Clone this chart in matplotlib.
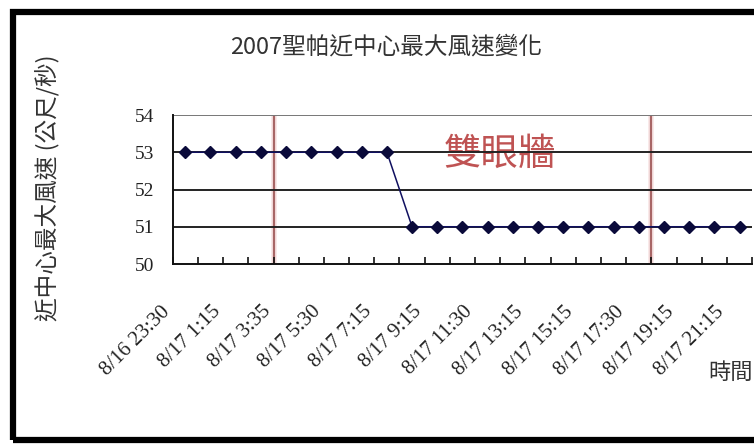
import matplotlib
matplotlib.use("Agg")
import matplotlib.pyplot as plt
from matplotlib.patches import Rectangle
from matplotlib.transforms import offset_copy
import numpy as np

plt.rcParams["font.family"] = ["Noto Sans CJK TC", "DejaVu Sans"]

# Observation times (only every other one is labelled on the axis)
time_labels = [
    "8/16 23:30", "", "8/17 1:15", "", "8/17 3:35", "", "8/17 5:30", "",
    "8/17 7:15", "", "8/17 9:15", "", "8/17 11:30", "", "8/17 13:15", "",
    "8/17 15:15", "", "8/17 17:30", "", "8/17 19:15", "", "8/17 21:15",
]
# Maximum sustained wind near the centre (m/s)
max_wind = [53, 53, 53, 53, 53, 53, 53, 53, 53,
            51, 51, 51, 51, 51, 51, 51, 51, 51, 51, 51, 51, 51, 51]
y_ticks = [50, 51, 52, 53, 54]
# Eyewall-replacement markers, placed between observations
eyewall_marks = [3.5, 18.5]

title = "2007聖帕近中心最大風速變化"
y_label = "近中心最大風速 (公尺/秒)"
x_label = "時間"
note = "雙眼牆"

W, H = 754, 444
fig = plt.figure(figsize=(W / 100, H / 100), dpi=100)
fig.patch.set_facecolor("white")

ax = fig.add_axes([172.7 / W, 1 - 264 / H, (752.3 - 172.7) / W, (264 - 115) / H])
x = np.arange(len(max_wind))

ax.set_xlim(-0.5, len(max_wind) - 0.5)
ax.set_ylim(y_ticks[0], y_ticks[-1])

# horizontal gridlines
for v in y_ticks[1:]:
    ax.axhline(v, color="#222222" if v < y_ticks[-1] else "#777777",
               lw=1.4, zorder=2)

# eyewall markers
for xm in eyewall_marks:
    ax.axvline(xm, color="#f8e4e4", lw=4, zorder=1)
    ax.axvline(xm, color="#a86666", lw=1.6, zorder=1.5)

ax.text(12.5, 52.95, note, color="#b84040", fontsize=27, ha="center",
        va="center", zorder=1.8, alpha=0.9)

ax.plot(x, max_wind, color="#101060", lw=1.1, zorder=3,
        marker="D", markersize=6, markerfacecolor="#0a0a3a",
        markeredgecolor="#0a0a3a")

for s in ["top", "right"]:
    ax.spines[s].set_visible(False)
ax.spines["left"].set_color("#111111")
ax.spines["bottom"].set_color("#111111")
ax.spines["left"].set_linewidth(1.4)
ax.spines["bottom"].set_linewidth(1.4)

ax.set_yticks(y_ticks)
ax.set_yticklabels([str(v) for v in y_ticks], family="Liberation Serif",
                   fontsize=14, color="#222222")
ax.tick_params(axis="y", length=0, pad=13)

ax.set_xticks(np.arange(-0.5, len(max_wind), 1.0))
ax.set_xticklabels([])
ax.tick_params(axis="x", direction="in", length=5, width=1.2, color="#111111")

label_tr = offset_copy(ax.get_xaxis_transform(), fig=fig, x=-18, y=-45,
                       units="dots")
for i, lab in enumerate(time_labels):
    if lab:
        ax.text(i, 0, lab, transform=label_tr, rotation=45,
                rotation_mode="anchor", ha="right", va="center",
                family="Liberation Serif", fontsize=15, color="#222222")

fig.text(386 / W, 1 - 47 / H, title, ha="center", va="center",
         fontsize=17, color="#333333")
fig.text(47 / W, 1 - 188 / H, y_label, ha="center", va="center",
         rotation=90, fontsize=17, color="#333333")
fig.text(708 / W, 1 - 372 / H, x_label, ha="left", va="center",
         fontsize=16, color="#333333")

# outer frame
fig.add_artist(Rectangle((13 / W, 1 - 440 / H), 1.2, (440 - 12) / H,
                         transform=fig.transFigure, fill=False,
                         edgecolor="black", lw=4.5, clip_on=False))

fig.savefig("out.png", dpi=100, facecolor="white")
